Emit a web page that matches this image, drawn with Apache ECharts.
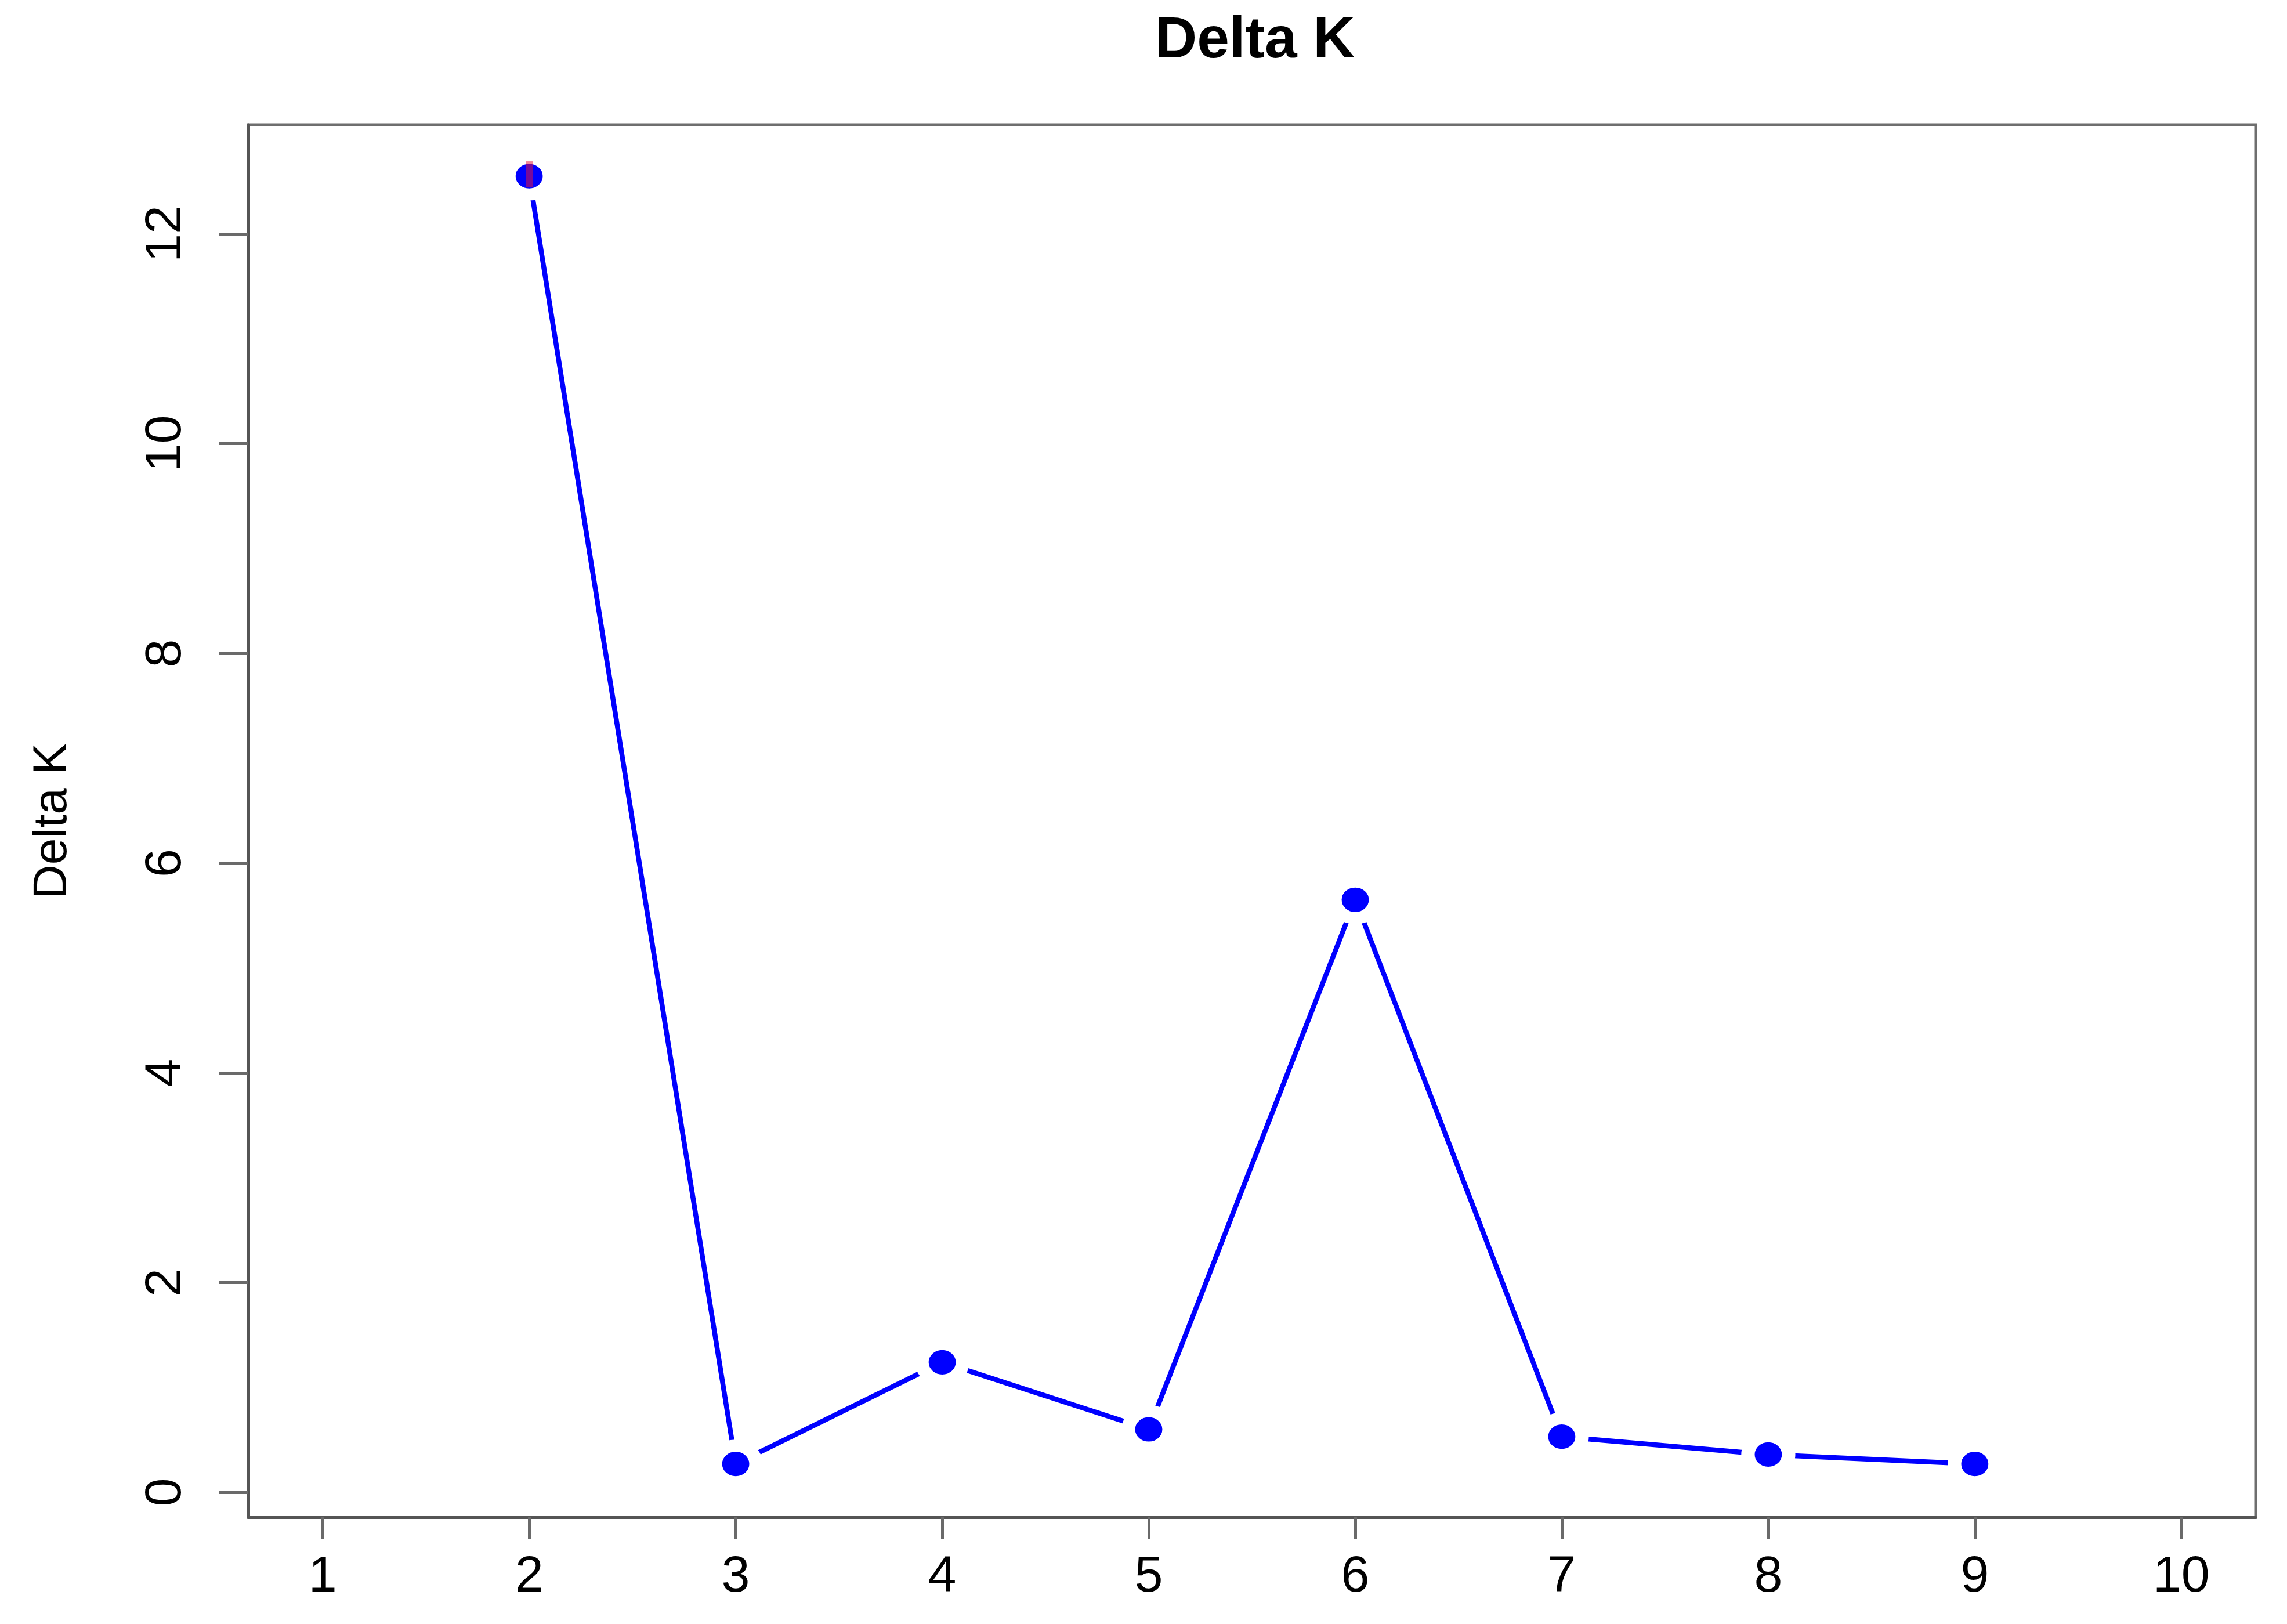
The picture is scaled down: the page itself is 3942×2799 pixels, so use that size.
<!DOCTYPE html>
<html><head><meta charset="utf-8">
<script src="https://cdn.jsdelivr.net/npm/echarts@6/dist/echarts.min.js"></script>
<style>html,body{margin:0;padding:0;background:#fff}#c{width:3942px;height:2799px}</style>
</head><body><div id="c"></div>
<script>
// ---- data ----
const kValues = [2, 3, 4, 5, 6, 7, 8, 9];
const deltaK = [12.55, 0.27, 1.24, 0.60, 5.65, 0.53, 0.36, 0.27];
const xTicks = [1, 2, 3, 4, 5, 6, 7, 8, 9, 10];
const yTicks = [0, 2, 4, 6, 8, 10, 12];
const chartTitle = 'Delta K';
const yTitle = 'Delta K';
const highlightK = [2];

const points = kValues.map((k, i) => [k, deltaK[i]]);
const highlight = highlightK.map(k => [k, deltaK[kValues.indexOf(k)]]);

const ellipse = 'path://M0,50A50,50,0,1,1,100,50A50,50,0,1,1,0,50Z';
const chart = echarts.init(document.getElementById('c'), null, {renderer: 'canvas'});
chart.setOption({
  animation: false,
  backgroundColor: '#ffffff',
  title: {
    text: chartTitle, left: 1986, top: 16,
    textStyle: {fontFamily: 'Liberation Sans', fontWeight: 'bold', fontSize: 100, color: '#000'}
  },
  grid: {left: 428, top: 215, right: 54, bottom: 184, show: true,
         borderColor: '#6e6e6e', borderWidth: 5, backgroundColor: 'transparent'},
  xAxis: {
    type: 'value', min: 0.64, max: 10.36,
    axisLine: {show: true, onZero: false, lineStyle: {color: '#555555', width: 5}},
    axisTick: {show: true, customValues: xTicks, length: 38, lineStyle: {color: '#6a6a6a', width: 5}},
    axisLabel: {show: true, customValues: xTicks, margin: 60, fontFamily: 'Liberation Sans', fontSize: 88, color: '#000'},
    splitLine: {show: false}
  },
  yAxis: {
    type: 'value', min: -0.238, max: 13.04,
    name: yTitle, nameLocation: 'middle', nameGap: 296, nameRotate: 90,
    nameTextStyle: {fontFamily: 'Liberation Sans', fontSize: 82, color: '#000'},
    axisLine: {show: true, onZero: false, lineStyle: {color: '#555555', width: 5}},
    axisTick: {show: true, customValues: yTicks, length: 51, lineStyle: {color: '#6a6a6a', width: 5}},
    axisLabel: {show: true, customValues: yTicks, rotate: 90, margin: 97, fontFamily: 'Liberation Sans', fontSize: 88, color: '#000'},
    splitLine: {show: false}
  },
  series: [
    {
      type: 'line', data: points, symbol: ellipse, symbolSize: [70, 63],
      lineStyle: {color: '#0000ff', width: 8.5},
      itemStyle: {color: '#0000ff', borderColor: '#ffffff', borderWidth: 22},
      emphasis: {disabled: true}, z: 2
    },
    {
      type: 'scatter', data: highlight, symbol: 'rect', symbolSize: [12, 45], symbolOffset: [0, -3],
      itemStyle: {color: 'rgba(230,20,60,0.65)'}, emphasis: {disabled: true}, z: 3
    }
  ]
});
</script></body></html>
